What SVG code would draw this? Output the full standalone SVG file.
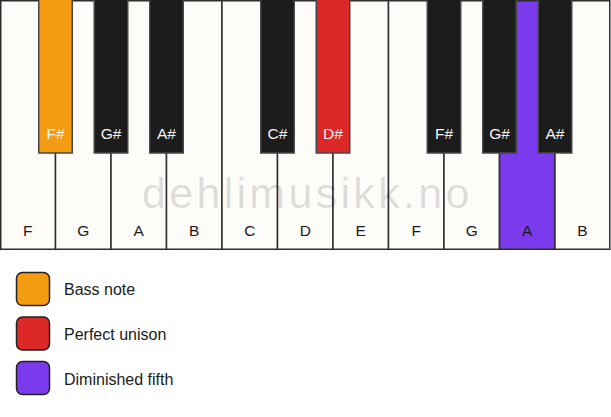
<svg xmlns="http://www.w3.org/2000/svg" width="611" height="417" viewBox="0 0 611 417">
<style>
.w{fill:#fdfcf8;stroke:#2e2e2e;stroke-width:1.5}
.b{fill:#1c1c1c;stroke:#474747;stroke-width:1.5}
.wl{font-family:"Liberation Sans",Arial,sans-serif;font-size:15.5px;fill:#1a1a1a;text-anchor:middle}
.bl{font-family:"Liberation Sans",Arial,sans-serif;font-size:15.5px;fill:#f4f4f4;text-anchor:middle}
.lg{stroke:#222;stroke-width:1.5}
.lt{font-family:"Liberation Sans",Arial,sans-serif;font-size:16px;fill:#1a1a1a}
.wm{font-family:"Liberation Sans",Arial,sans-serif;font-size:43px;fill:#000;fill-opacity:0.12;letter-spacing:3.3px}
</style>
<rect width="611" height="417" fill="#ffffff"/>
<g id="white-keys">
<g id="key-F1"><rect class="w" x="0.75" y="0.75" width="54.75" height="248.5"/><text class="wl" x="27.75" y="236">F</text></g>
<g id="key-G1"><rect class="w" x="55.5" y="0.75" width="55.5" height="248.5"/><text class="wl" x="83.25" y="236">G</text></g>
<g id="key-A1"><rect class="w" x="111" y="0.75" width="55.5" height="248.5"/><text class="wl" x="138.75" y="236">A</text></g>
<g id="key-B1"><rect class="w" x="166.5" y="0.75" width="55.5" height="248.5"/><text class="wl" x="194.25" y="236">B</text></g>
<g id="key-C"><rect class="w" x="222" y="0.75" width="55.5" height="248.5"/><text class="wl" x="249.75" y="236">C</text></g>
<g id="key-D"><rect class="w" x="277.5" y="0.75" width="55.5" height="248.5"/><text class="wl" x="305.25" y="236">D</text></g>
<g id="key-E"><rect class="w" x="333" y="0.75" width="55.5" height="248.5"/><text class="wl" x="360.75" y="236">E</text></g>
<g id="key-F2"><rect class="w" x="388.5" y="0.75" width="55.5" height="248.5"/><text class="wl" x="416.25" y="236">F</text></g>
<g id="key-G2"><rect class="w" x="444" y="0.75" width="55.5" height="248.5"/><text class="wl" x="471.75" y="236">G</text></g>
<g id="key-A2"><rect class="w" x="499.5" y="0.75" width="55.5" height="248.5" style="fill:#7b3aeb"/><text class="wl" x="527.25" y="236">A</text></g>
<g id="key-B2"><rect class="w" x="555" y="0.75" width="54.75" height="248.5"/><text class="wl" x="582.5" y="236">B</text></g>
</g>
<text class="wm" x="142" y="208">dehlimusikk.no</text>
<g id="black-keys">
<g id="key-Fs1"><rect class="b" x="38.75" y="-2" width="33.5" height="155" style="fill:#f39c12"/><text class="bl" x="55.5" y="139">F#</text></g>
<g id="key-Gs1"><rect class="b" x="94.25" y="-2" width="33.5" height="155"/><text class="bl" x="111" y="139">G#</text></g>
<g id="key-As1"><rect class="b" x="149.75" y="-2" width="33.5" height="155"/><text class="bl" x="166.5" y="139">A#</text></g>
<g id="key-Cs"><rect class="b" x="260.75" y="-2" width="33.5" height="155"/><text class="bl" x="277.5" y="139">C#</text></g>
<g id="key-Ds"><rect class="b" x="316.25" y="-2" width="33.5" height="155" style="fill:#dd2828"/><text class="bl" x="333" y="139">D#</text></g>
<g id="key-Fs2"><rect class="b" x="427.25" y="-2" width="33.5" height="155"/><text class="bl" x="444" y="139">F#</text></g>
<g id="key-Gs2"><rect class="b" x="482.75" y="-2" width="33.5" height="155"/><text class="bl" x="499.5" y="139">G#</text></g>
<g id="key-As2"><rect class="b" x="538.25" y="-2" width="33.5" height="155"/><text class="bl" x="555" y="139">A#</text></g>
</g>
<g id="legend">
<g id="legend-bass"><rect class="lg" x="16.5" y="272.5" width="33" height="33" rx="6" fill="#f39c12"/><text class="lt" x="64" y="295">Bass note</text></g>
<g id="legend-unison"><rect class="lg" x="16.5" y="317" width="33" height="33" rx="6" fill="#dd2828"/><text class="lt" x="64" y="340">Perfect unison</text></g>
<g id="legend-fifth"><rect class="lg" x="16.5" y="361.5" width="33" height="33" rx="6" fill="#7b3aeb"/><text class="lt" x="64" y="384.5">Diminished fifth</text></g>
</g>
<g id="connectors"/>
</svg>
